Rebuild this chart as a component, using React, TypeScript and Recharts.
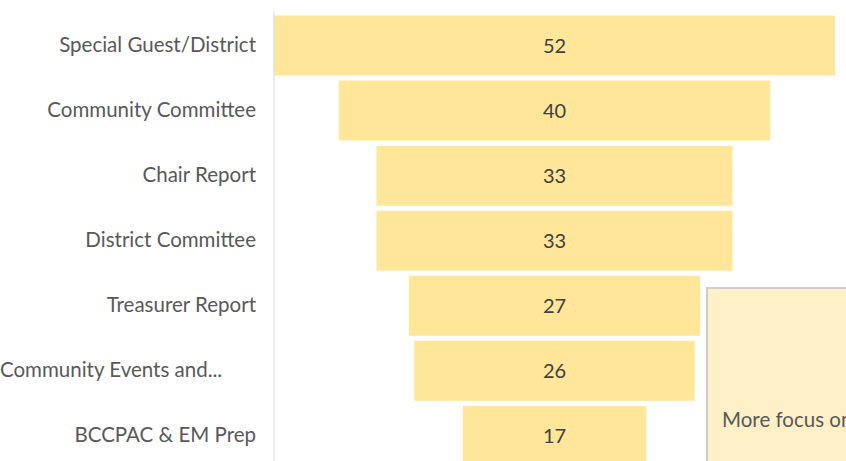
import { Bar, BarChart, LabelList, XAxis, YAxis } from 'recharts';

const topics = [
  'Special Guest/District',
  'Community Committee',
  'Chair Report',
  'District Committee',
  'Treasurer Report',
  'Community Events and...',
  'BCCPAC & EM Prep',
];
const counts = [52, 40, 33, 33, 27, 26, 17];
const noteText = 'More focus on';

const maxCount = Math.max(...counts);
// funnel: an invisible spacer pushes each bar so it sits centred
const data = topics.map((topic, i) => ({
  topic,
  pad: (maxCount - counts[i]) / 2,
  value: counts[i],
}));

const font = 'Lato, "Open Sans", sans-serif';

function TopicTick(props: any) {
  const { x, y, payload } = props;
  const clipped = String(payload.value).endsWith('...');
  return (
    <text
      x={clipped ? 0 : x}
      y={y}
      dy={7}
      textAnchor={clipped ? 'start' : 'end'}
      fill="#595959"
      fontSize={20.5}
      fontFamily={font}
    >
      {payload.value}
    </text>
  );
}

export default function App() {
  return (
    <div
      style={{
        position: 'fixed',
        left: 0,
        top: 0,
        width: 846,
        height: 461,
        overflow: 'hidden',
        background: '#fff',
      }}
    >
      <BarChart
        width={846}
        height={468}
        data={data}
        layout="vertical"
        margin={{ top: 12.5, right: 11, bottom: 0, left: 0 }}
      >
        <XAxis type="number" hide domain={[0, maxCount]} />
        <YAxis
          type="category"
          dataKey="topic"
          width={274}
          tick={<TopicTick />}
          tickLine={false}
          tickSize={0}
          tickMargin={18}
          axisLine={{ stroke: '#d9d9d9', strokeWidth: 1 }}
        />
        <Bar dataKey="pad" stackId="f" fill="transparent" barSize={60} isAnimationActive={false} />
        <Bar dataKey="value" stackId="f" fill="#FFE699" barSize={60} isAnimationActive={false}>
          <LabelList
            dataKey="value"
            position="center"
            fill="#404040"
            fontSize={20}
            fontFamily={font}
          />
        </Bar>
      </BarChart>
      <div
        style={{
          position: 'absolute',
          left: 706,
          top: 287,
          width: 220,
          height: 200,
          boxSizing: 'border-box',
          background: '#FFF0C8',
          border: '2px solid #cdcdcd',
          padding: '118px 0 0 14px',
          fontFamily: font,
          fontSize: 20.5,
          color: '#595959',
          whiteSpace: 'nowrap',
        }}
      >
        {noteText}
      </div>
    </div>
  );
}
